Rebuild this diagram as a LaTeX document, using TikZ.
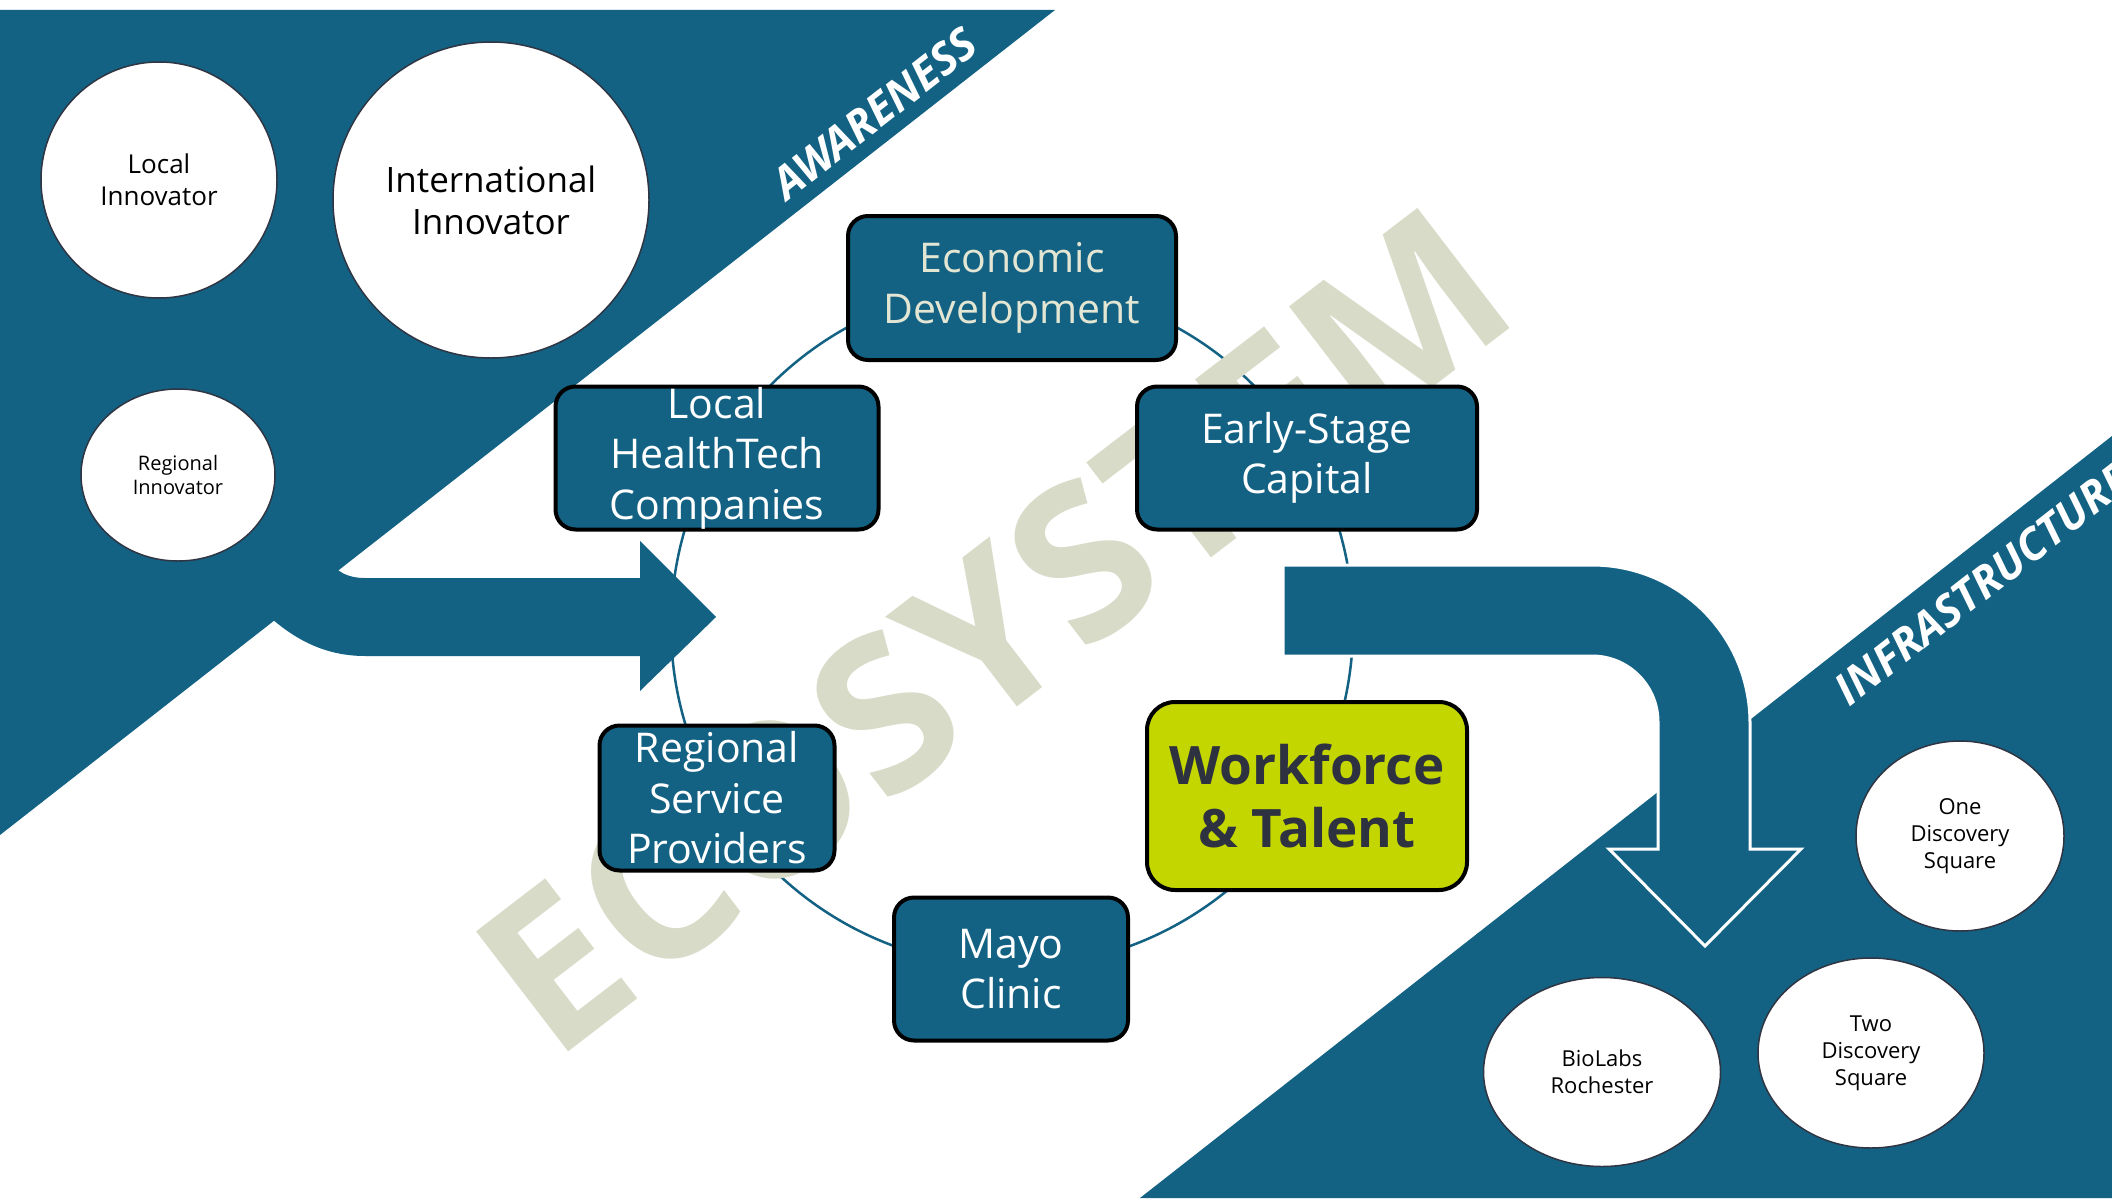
\documentclass[tikz,border=0pt]{standalone}
\usepackage{fontspec}
\setmainfont{Open Sans}
\usetikzlibrary{shapes.geometric}
\definecolor{ecoblue}{HTML}{136284}
\definecolor{ecolime}{HTML}{C4D600}
\definecolor{ecoink}{HTML}{2E3140}
\definecolor{ecocream}{HTML}{E4E6D4}
\definecolor{ecomark}{HTML}{D8DBC7}
\definecolor{ecoline}{HTML}{2F3542}

\tikzset{
    hubbox/.style={draw=black, line width=4pt, fill=ecoblue, rounded corners=20pt, text=white,
        align=center, inner sep=0pt, font=\fontsize{41}{50.5}\selectfont},
    site/.style={ellipse, draw=ecoline, line width=1.5pt, fill=white, align=center, inner sep=0pt},
    banner/.style={text=white, inner sep=0pt, rotate=38, anchor=south west,
        font=\bfseries\itshape\fontsize{44}{50}\selectfont},
}

\begin{document}
\begin{tikzpicture}[x=1pt, y=-1pt]
    \useasboundingbox (0,0) rectangle (2112,1199);
    \clip (0,0) rectangle (2112,1199);
    \fill[white] (0,0) rectangle (2112,1199);

    \fill[ecoblue] (0,10) -- (1055,10) -- (0,835) -- cycle;
    \fill[ecoblue] (1140,1198) -- (2112,436) -- (2112,1198) -- cycle;

    \coordinate (hub) at (1012,626);
    \draw[ecoblue, line width=2.5pt] (hub) circle[radius=341pt];

    \fill[ecoblue] (220,560) -- (330,560) .. controls (336,572) and (348,578) .. (365,578)
        -- (640,578) -- (640,541) -- (716,617) -- (640,691) -- (640,656) -- (365,656)
        .. controls (320,656) and (280,635) .. (240,585) -- cycle;
    \filldraw[ecoblue, draw=white, line width=3pt] (1283,565) -- (1592,565)
        arc[start angle=-90, end angle=0, radius=158] -- (1750,849) -- (1801,849)
        -- (1705,946) -- (1609,849) -- (1658,849) -- (1658,722)
        arc[start angle=0, end angle=-90, radius=66] -- (1283,656) -- cycle;

    \node[text=ecomark, inner sep=0pt, rotate=37.5, font=\bfseries\fontsize{212}{212}\selectfont]
        (mark) at (993,630) {ECOSYSTEM};

    \node[banner] (aware) at (788,202) {AWARENESS};
    \node[banner] (infra) at (1850,708) {INFRASTRUCTURE};

    \node[hubbox, text=ecocream, minimum width=328pt, minimum height=144pt] (econ) at (1012,288) {Economic\\Development};
    \node[hubbox, minimum width=323pt, minimum height=143pt] (healthtech) at (717,458) {Local\\HealthTech\\Companies};
    \node[hubbox, minimum width=340pt, minimum height=143pt] (capital) at (1307,458) {Early-Stage\\Capital};
    \node[hubbox, minimum width=235pt, minimum height=145pt] (service) at (717,798) {Regional\\Service\\Providers};
    \node[hubbox, minimum width=234pt, minimum height=143pt] (mayo) at (1011,969) {Mayo\\Clinic};
    \node[hubbox, fill=ecolime, text=ecoink, rounded corners=28pt, minimum width=320pt, minimum height=188pt,
        font=\bfseries\fontsize{53}{63}\selectfont] (workforce) at (1307,796) {Workforce\\\& Talent};

    \node[site, minimum width=236pt, minimum height=236pt, font=\fontsize{26}{32}\selectfont] (local) at (159,180) {Local\\Innovator};
    \node[site, minimum width=316pt, minimum height=316pt, font=\fontsize{35}{42}\selectfont] (intl) at (491,200) {International\\Innovator};
    \node[site, minimum width=194pt, minimum height=172pt, font=\fontsize{20}{24}\selectfont] (regional) at (178,475) {Regional\\Innovator};
    \node[site, minimum width=208pt, minimum height=190pt, font=\fontsize{22}{27}\selectfont] (onedsq) at (1960,836) {One\\Discovery\\Square};
    \node[site, minimum width=226pt, minimum height=190pt, font=\fontsize{22}{27}\selectfont] (twodsq) at (1871,1053) {Two\\Discovery\\Square};
    \node[site, minimum width=237pt, minimum height=189pt, font=\fontsize{22}{27}\selectfont] (biolabs) at (1602,1072) {BioLabs\\Rochester};
\end{tikzpicture}
\end{document}
